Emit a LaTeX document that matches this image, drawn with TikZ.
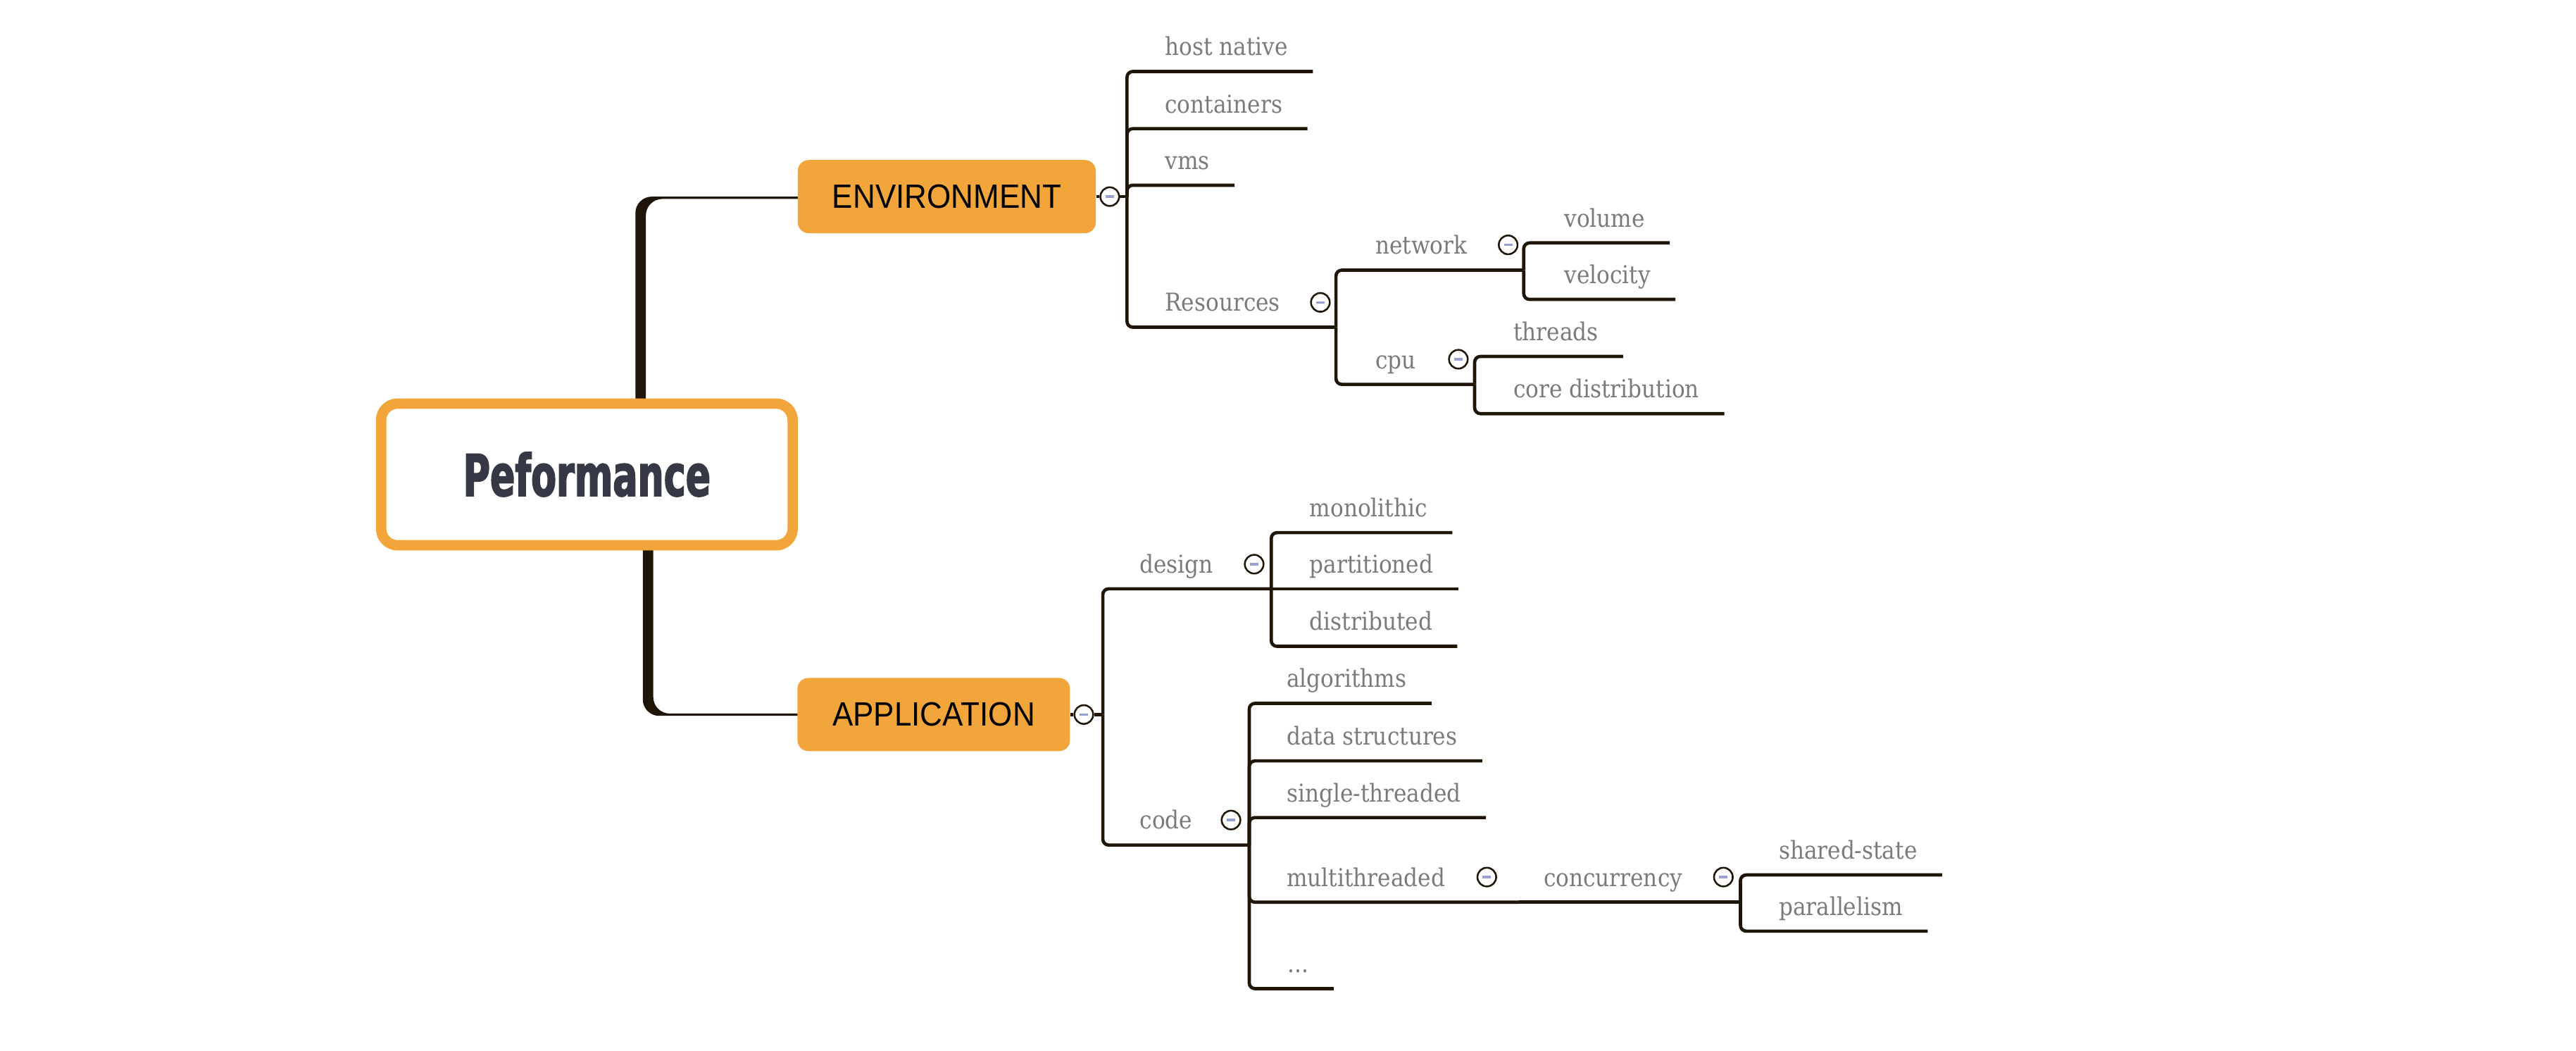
\documentclass[tikz,border=0pt]{standalone}
\usepackage{fontspec}
\usetikzlibrary{backgrounds}
\newfontfamily\leaffont[FakeStretch=0.89]{DejaVu Serif}
\newfontfamily\boxfont[FakeStretch=0.92]{Liberation Sans}
\newfontfamily\rootfont[FakeStretch=0.64,FakeBold=2]{DejaVu Sans}
\definecolor{mmorange}{RGB}{242,165,58}
\definecolor{mmline}{RGB}{32,22,8}
\definecolor{mmtext}{RGB}{122,122,122}
\definecolor{mmroot}{RGB}{54,57,69}
\definecolor{mmminus}{RGB}{150,160,210}
\begin{document}
\begin{tikzpicture}[x=1pt,y=-1pt,
  rootbox/.style={draw=mmorange, line width=6.3pt, fill=white, rounded corners=10pt, minimum width=250.5pt, minimum height=86.2pt, inner sep=0pt, text=mmroot, font=\rootfont\bfseries\fontsize{35}{42}\selectfont},
  mainbox/.style={fill=mmorange, rounded corners=6.6pt, minimum height=44.5pt, inner sep=0pt, font=\boxfont\fontsize{20.5}{24}\selectfont},
  leaf/.style={anchor=base west, inner sep=0pt, text=mmtext, font=\leaffont\fontsize{15}{18}\selectfont},
  toggle/.style={circle, draw=mmline, line width=1.1pt, fill=white, minimum size=11.4pt, inner sep=0pt,
    path picture={\draw[mmminus, line width=1.5pt] ([xshift=-2.6pt]path picture bounding box.center) -- ([xshift=2.6pt]path picture bounding box.center);}},
  branch/.style={draw=mmline, line width=2pt, rounded corners=3.5pt},
  trunk/.style={fill=mmline, rounded corners=10pt}]
\useasboundingbox (0,0) rectangle (1568,639.5);

\node[rootbox] (root) at (357.25,288.7) {Peformance};
\node[mainbox, minimum width=181.4pt] (env) at (576.3,119.65) {ENVIRONMENT};
\node[mainbox, minimum width=165.9pt] (app) at (568.35,434.8) {APPLICATION};
\node[toggle] (envc) at (675.5,119.65) {};
\node[toggle] (appc) at (659.7,434.8) {};

\begin{scope}[on background layer]
\fill[trunk] ([xshift=29.5pt]root.center) |- (env.center) -- ([yshift=-1.4pt]env.center) -| ([xshift=35.9pt]root.center) -- cycle;
\fill[trunk] ([xshift=34pt]root.center) |- ([yshift=-0.8pt]app.center) -- ([yshift=0.6pt]app.center) -| ([xshift=40.4pt]root.center) -- cycle;
\end{scope}

\node[leaf] (host) at (709,33.8) {host native};
\node[leaf] (cont) at (709,68.6) {containers};
\node[leaf] (vms) at (709,103) {vms};
\node[leaf] (res) at (709,189.4) {Resources};
\node[toggle] (resc) at (803.7,184) {};
\node[leaf] (net) at (837,154.7) {network};
\node[toggle] (netc) at (918,149) {};
\node[leaf] (cpu) at (837,224.2) {cpu};
\node[toggle] (cpuc) at (887.7,218.6) {};
\node[leaf] (vol) at (952,138.1) {volume};
\node[leaf] (vel) at (952,172.5) {velocity};
\node[leaf] (thr) at (921,207.2) {threads};
\node[leaf] (core) at (921,242) {core distribution};

\node[leaf] (design) at (693.6,348.6) {design};
\node[toggle] (desc) at (763.4,343.3) {};
\node[leaf] (code) at (693.6,504.5) {code};
\node[toggle] (codec) at (749.3,499) {};
\node[leaf] (mono) at (797,314.4) {monolithic};
\node[leaf] (part) at (797,348.6) {partitioned};
\node[leaf] (dist) at (797,383.6) {distributed};
\node[leaf] (algo) at (783,418.3) {algorithms};
\node[leaf] (data) at (783,453.3) {data structures};
\node[leaf] (single) at (783,487.8) {single-threaded};
\node[leaf] (multi) at (783,539.3) {multithreaded};
\node[toggle] (multic) at (905,533.7) {};
\node[leaf] (dots) at (783.7,591.9) {...};
\node[leaf] (conc) at (939.4,539.3) {concurrency};
\node[toggle] (concc) at (1049,533.7) {};
\node[leaf] (shared) at (1082.6,522.7) {shared-state};
\node[leaf] (para) at (1082.6,556.9) {parallelism};

\coordinate (env-b) at (686,119.65);
\coordinate (res-b) at (813.2,199.1);
\coordinate (net-b) at (927.5,164.4);
\coordinate (cpu-b) at (897.6,233.9);
\coordinate (app-b) at (671.3,434.8);
\coordinate (des-b) at (773.8,358.3);
\coordinate (code-b) at (760.4,514.2);
\coordinate (multi-b) at (924.6,549);
\coordinate (conc-b) at (1059.4,549);

\draw[branch] (env.east) -- (envc.west);
\draw[branch] (envc.east) -- (env-b);
\draw[branch] (app.east) -- (appc.west);
\draw[branch] (appc.east) -- (app-b);

\draw[branch] (env-b) |- ([xshift=15pt,yshift=-9.7pt]host.base east);
\draw[branch] (env-b) |- ([xshift=15pt,yshift=-9.7pt]cont.base east);
\draw[branch] (env-b) |- ([xshift=15pt,yshift=-9.7pt]vms.base east);
\draw[branch] (env-b) |- (res-b);
\draw[branch] (res-b) |- (net-b);
\draw[branch] (res-b) |- (cpu-b);
\draw[branch] (net-b) |- ([xshift=15pt,yshift=-9.7pt]vol.base east);
\draw[branch] (net-b) |- ([xshift=15pt,yshift=-9.7pt]vel.base east);
\draw[branch] (cpu-b) |- ([xshift=15pt,yshift=-9.7pt]thr.base east);
\draw[branch] (cpu-b) |- ([xshift=15pt,yshift=-9.7pt]core.base east);

\draw[branch] (app-b) |- (des-b);
\draw[branch] (app-b) |- (code-b);
\draw[branch] (des-b) |- ([xshift=15pt,yshift=-9.7pt]mono.base east);
\draw[branch] (des-b) -- ([xshift=15pt,yshift=-9.7pt]part.base east);
\draw[branch] (des-b) |- ([xshift=15pt,yshift=-9.7pt]dist.base east);
\draw[branch] (code-b) |- ([xshift=15pt,yshift=-9.7pt]algo.base east);
\draw[branch] (code-b) |- ([xshift=15pt,yshift=-9.7pt]data.base east);
\draw[branch] (code-b) |- ([xshift=15pt,yshift=-9.7pt]single.base east);
\draw[branch] (code-b) |- (multi-b);
\draw[branch] (code-b) |- ([xshift=15pt,yshift=-9.7pt]dots.base east);
\draw[branch] (multi-b) -- (conc-b);
\draw[branch] (conc-b) |- ([xshift=15pt,yshift=-9.7pt]shared.base east);
\draw[branch] (conc-b) |- ([xshift=15pt,yshift=-9.7pt]para.base east);
\end{tikzpicture}
\end{document}
